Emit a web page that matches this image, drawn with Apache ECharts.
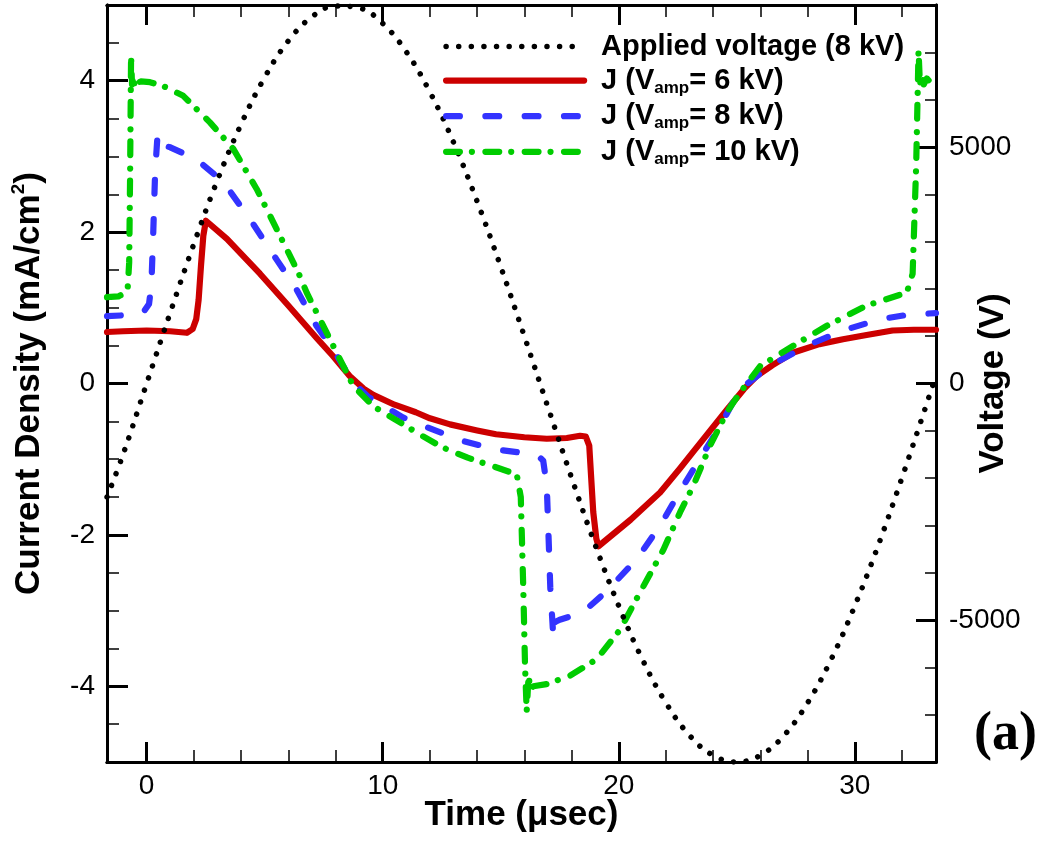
<!DOCTYPE html>
<html>
<head>
<meta charset="utf-8">
<script src="https://cdn.jsdelivr.net/npm/echarts@6/dist/echarts.min.js"></script>
<style>
  html, body { margin: 0; padding: 0; background: #fff; }
  #chart { width: 1043px; height: 841px; }
</style>
</head>
<body>
<div id="chart"></div>
<script>
// Discharge current density (mA/cm^2) over one cycle for three driving amplitudes,
// and the applied 8 kV sinusoidal voltage on the right-hand axis. Time in microseconds.

const tJ6 = [-1.68, -1.0, 0.0, 1.0, 1.7, 1.95, 2.1, 2.2, 2.3, 2.4, 2.51, 3.4, 4.8, 6.0, 7.2, 7.9, 8.6, 9.2, 9.6, 10.5,
  11.4, 12.0, 12.85, 14.0, 14.8, 16.0, 16.95, 17.8, 18.36, 18.6, 18.75, 18.92, 19.05, 19.14, 20.5, 21.75, 22.6, 23.16,
  24.6, 25.3, 25.85, 26.5, 27.4, 28.5, 29.5, 30.5, 31.6, 32.5, 33.44];
const j6 = [0.68, 0.69, 0.70, 0.69, 0.67, 0.72, 0.85, 1.10, 1.55, 1.95, 2.15, 1.91, 1.45, 1.03, 0.60, 0.36, 0.10, -0.07, -0.15, -0.28,
  -0.38, -0.46, -0.54, -0.62, -0.67, -0.71, -0.73, -0.72, -0.69, -0.70, -0.82, -1.70, -2.05, -2.15, -1.80, -1.44, -1.12, -0.90,
  -0.34, -0.075, 0.10, 0.24, 0.41, 0.52, 0.585, 0.64, 0.70, 0.71, 0.71];

const tJ8 = [-1.68, -1.0, -0.14, 0.1, 0.2, 0.28, 0.36, 0.45, 0.55, 0.7, 1.0, 2.12, 3.25, 4.38, 5.5, 6.3, 7.2, 7.9, 8.75, 9.4,
  10.17, 10.87, 11.72, 13.4, 14.8, 16.24, 16.6, 16.8, 16.95, 17.02, 17.1, 17.18, 17.23, 17.3, 17.5, 18.22, 18.78, 19.5,
  20.76, 21.75, 22.6, 23.6, 24.3, 25.14, 26.4, 27.97, 29.5, 31.07, 32.3, 33.44];
const j8 = [0.89, 0.90, 0.94, 1.05, 1.3, 2.0, 2.8, 3.23, 3.08, 3.15, 3.12, 2.96, 2.66, 2.17, 1.64, 1.27, 0.76, 0.45, 0.01, -0.18,
  -0.32, -0.45, -0.56, -0.76, -0.87, -0.93, -0.96, -1.02, -1.35, -1.97, -2.7, -3.1, -3.36, -3.15, -3.12, -3.05, -2.94, -2.74,
  -2.32, -1.88, -1.42, -0.91, -0.56, -0.075, 0.23, 0.50, 0.70, 0.85, 0.91, 0.93];

const tJ10 = [-1.68, -1.2, -0.95, -0.8, -0.74, -0.7, -0.66, -0.62, -0.57, -0.52, -0.46, -0.38, -0.25, 0.14, 0.7, 1.55, 2.68,
  3.67, 4.66, 5.65, 6.42, 6.78, 7.9, 8.75, 9.6, 10.5, 11.5, 12.5, 13.6, 14.83, 15.68, 15.85, 15.96, 16.03, 16.1, 16.18,
  16.26, 16.38, 16.95, 17.94, 19.07, 20.06, 20.9, 21.9, 22.6, 23.16, 23.87, 24.58, 25.14, 25.99, 27.4, 28.8, 30.5, 32.2,
  32.45, 32.6, 32.7, 32.76, 32.84, 32.92, 33.05, 33.2, 33.44];
const j10 = [1.14, 1.15, 1.19, 1.28, 1.6, 2.8, 4.33, 3.95, 4.06, 3.96, 4.03, 3.97, 3.99, 3.98, 3.93, 3.80, 3.45,
  3.10, 2.57, 1.95, 1.47, 1.20, 0.50, -0.03, -0.30, -0.47, -0.66, -0.84, -0.98, -1.11, -1.20, -1.5, -2.76, -3.73, -4.33, -3.86,
  -4.05, -4.0, -3.97, -3.86, -3.64, -3.25, -2.76, -2.19, -1.70, -1.35, -0.82, -0.38, -0.12, 0.23, 0.50, 0.76, 1.03, 1.20,
  1.45, 2.88, 4.40, 3.95, 4.08, 3.95, 4.03, 3.98, 4.0];

const tV = [-1.68, -1, 0, 1, 2, 3, 4, 5, 6, 7, 8, 9, 10, 11, 12, 13, 14, 15, 16, 17, 18, 19, 20, 21, 22, 23, 24, 25,
  26, 27, 28, 29, 30, 31, 32, 33, 33.44];
const volts = [-2400, -1500, 0, 1500, 2950, 4300, 5480, 6470, 7240, 7750, 7980, 7940, 7610, 7010, 6160, 5100, 3850, 2470,
  1000, -500, -1990, -3410, -4700, -5830, -6750, -7440, -7860, -8000, -7860, -7440, -6750, -5830, -4700, -3410, -1990,
  -500, 170];

// axis ticks
const xMajor = [0, 10, 20, 30];
const xMinor = [0, 2, 4, 6, 8, 10, 12, 14, 16, 18, 20, 22, 24, 26, 28, 30, 32];
const jMajor = [-4, -2, 0, 2, 4];
const jMinor = [-4.5, -4, -3.5, -3, -2.5, -2, -1.5, -1, -0.5, 0, 0.5, 1, 1.5, 2, 2.5, 3, 3.5, 4, 4.5];
const vMajor = [-5000, 0, 5000];
const vMinor = [-7000, -6000, -5000, -4000, -3000, -2000, -1000, 0, 1000, 2000, 3000, 4000, 5000, 6000, 7000];

const legendText = {
  'Applied voltage (8 kV)': '{f|Applied voltage (8 kV)}',
  'J6': '{f|J (V}{s|amp}{a|= 6 kV)}',
  'J8': '{f|J (V}{s|amp}{a|= 8 kV)}',
  'J10': '{f|J (V}{s|amp}{a|= 10 kV)}'
};

const SANS = '"Liberation Sans", Arial, Helvetica, sans-serif';
const T_MIN = -1.68, T_MAX = 33.44;
const J_WIDTH = 6.2, V_WIDTH = 5.5;
const zip = (xs, ys) => xs.map((x, i) => [x, ys[i]]);

const frameLine = { show: true, onZero: false, lineStyle: { color: '#000', width: 3 } };
const majorTick = (vals, len) => ({ show: true, inside: true, length: len, customValues: vals,
  lineStyle: { color: '#000', width: 3 } });
const minorTick = (vals, len) => ({ show: true, inside: true, length: len, customValues: vals,
  lineStyle: { color: '#000', width: 1.5 } });
const tickLabel = (vals, margin) => ({ show: true, customValues: vals, margin: margin, fontSize: 28,
  color: '#000', fontFamily: SANS, formatter: v => String(v) });
const hidden = { show: false };
const noSplit = { show: false };

function xAx(pos, tick, label, extra) {
  return Object.assign({ type: 'value', position: pos, min: T_MIN, max: T_MAX, axisLine: frameLine,
    axisTick: tick, axisLabel: label, splitLine: noSplit, minorTick: hidden }, extra || {});
}
function yAx(pos, lo, hi, tick, label, extra) {
  return Object.assign({ type: 'value', position: pos, min: lo, max: hi, axisLine: frameLine,
    axisTick: tick, axisLabel: label, splitLine: noSplit, minorTick: hidden }, extra || {});
}

const boldName = { fontSize: 35, fontWeight: 'bold', fontFamily: SANS, color: '#000' };

const option = {
  animation: false,
  backgroundColor: '#fff',
  grid: { left: 107, right: 107, top: 5, bottom: 79, containLabel: false, outerBoundsMode: 'none' },
  xAxis: [
    xAx('bottom', majorTick(xMajor, 20), tickLabel(xMajor, 10), {
      name: 'Time (\u03bcsec)', nameLocation: 'middle', nameGap: 36, nameMoveOverlap: false,
      nameTextStyle: boldName }),
    xAx('bottom', minorTick(xMinor, 12), hidden),
    xAx('top', majorTick(xMajor, 20), hidden),
    xAx('top', minorTick(xMinor, 12), hidden)
  ],
  yAxis: [
    yAx('left', -5, 5, majorTick(jMajor, 21), tickLabel(jMajor, 12), {
      name: '{a|Current Density (mA/cm}{b|2}{a|)}', nameLocation: 'middle', nameGap: 58,
      nameMoveOverlap: false,
      nameTextStyle: Object.assign({}, boldName, { rich: {
        a: { fontSize: 35, fontWeight: 'bold', fontFamily: SANS, color: '#000', lineHeight: 40 },
        b: { fontSize: 19, fontWeight: 'bold', fontFamily: SANS, color: '#000', lineHeight: 10, verticalAlign: 'top' }
      } }) }),
    yAx('left', -5, 5, minorTick(jMinor, 12), hidden),
    yAx('right', -8000, 8000, majorTick(vMajor, 20), tickLabel(vMajor, 13), {
      name: 'Voltage (V)', nameLocation: 'middle', nameGap: 40, nameRotate: 90, nameMoveOverlap: false,
      nameTextStyle: boldName }),
    yAx('right', -8000, 8000, minorTick(vMinor, 11), hidden)
  ],
  legend: {
    data: [
      { name: 'Applied voltage (8 kV)', lineStyle: { width: V_WIDTH } },
      { name: 'J6', lineStyle: { width: J_WIDTH } },
      { name: 'J8', lineStyle: { width: J_WIDTH } },
      { name: 'J10', lineStyle: { width: J_WIDTH } }
    ],
    orient: 'vertical',
    left: 443,
    top: 32,
    padding: 0,
    itemWidth: 138,
    itemHeight: 14,
    itemGap: 5.1,
    selectedMode: false,
    itemStyle: { opacity: 0 },
    lineStyle: { width: J_WIDTH },
    formatter: name => legendText[name],
    textStyle: {
      color: '#000',
      rich: {
        f: { fontSize: 29, fontWeight: 'bold', fontFamily: SANS, color: '#000', lineHeight: 32, padding: [0, 0, 0, 12] },
        a: { fontSize: 29, fontWeight: 'bold', fontFamily: SANS, color: '#000', lineHeight: 32 },
        s: { fontSize: 17, fontWeight: 'bold', fontFamily: SANS, color: '#000', lineHeight: 4, verticalAlign: 'bottom' }
      }
    }
  },
  graphic: [{
    type: 'text', left: 974, top: 708,
    style: { text: '(a)', font: 'bold 54px "Liberation Serif", "Times New Roman", serif', fill: '#000' }
  }],
  series: [
    {
      name: 'J6', type: 'line', xAxisIndex: 0, yAxisIndex: 0, data: zip(tJ6, j6),
      symbol: 'none', color: '#cc0000',
      lineStyle: { color: '#cc0000', width: J_WIDTH, cap: 'round', join: 'round' }
    },
    {
      name: 'J8', type: 'line', xAxisIndex: 0, yAxisIndex: 0, data: zip(tJ8, j8),
      symbol: 'none', color: '#3333ff',
      lineStyle: { color: '#3333ff', width: J_WIDTH, type: [13.8, 25.5], cap: 'round', join: 'round' }
    },
    {
      name: 'J10', type: 'line', xAxisIndex: 0, yAxisIndex: 0, data: zip(tJ10, j10),
      symbol: 'none', color: '#00cc00',
      lineStyle: { color: '#00cc00', width: J_WIDTH, type: [13.8, 12, 0.01, 13.5], cap: 'round', join: 'round' }
    },
    {
      name: 'Applied voltage (8 kV)', type: 'line', xAxisIndex: 0, yAxisIndex: 2, data: zip(tV, volts),
      symbol: 'none', smooth: 0.4, color: '#000',
      lineStyle: { color: '#000', width: V_WIDTH, type: [0.01, 12.6], cap: 'round' }
    }
  ]
};

const chart = echarts.init(document.getElementById('chart'), null, { renderer: 'canvas' });
chart.setOption(option);
</script>
</body>
</html>
